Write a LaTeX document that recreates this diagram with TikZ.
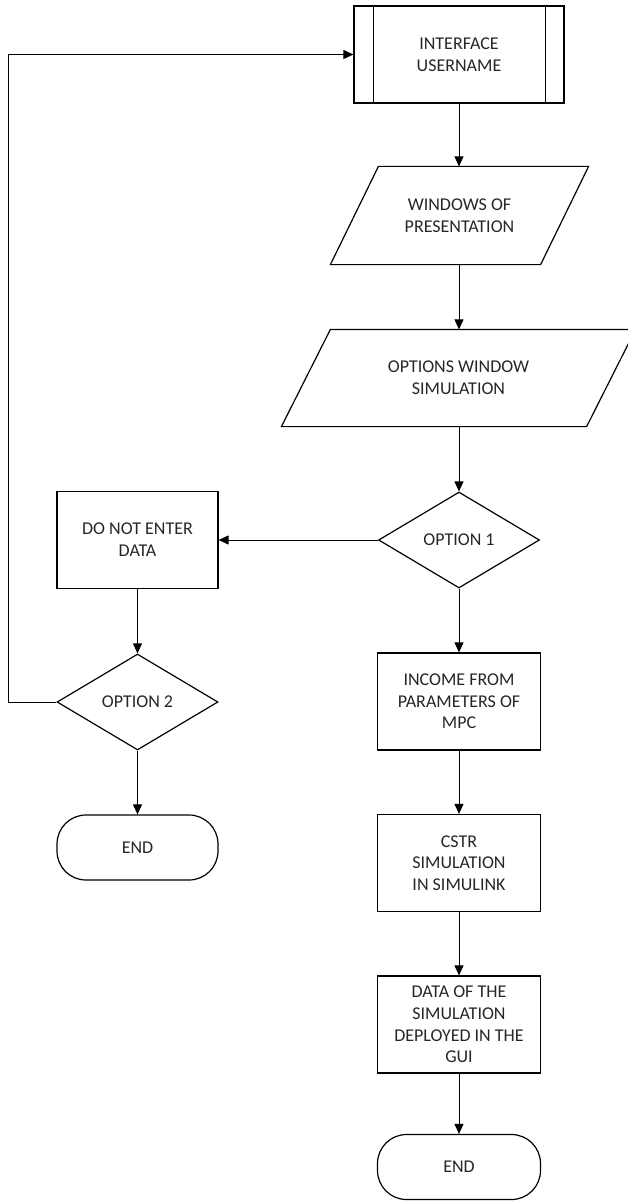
\documentclass[tikz,border=0pt]{standalone}
\usepackage{fontspec}
\setmainfont{Carlito}
\usetikzlibrary{shapes.geometric,arrows.meta,positioning}

\tikzset{
  block/.style={draw, line width=1.2pt, inner sep=2pt, align=center,
    text=black!85, font=\fontsize{18pt}{21.7pt}\selectfont},
  process/.style={block, minimum width=163pt, minimum height=97pt},
  pproc/.style={process, minimum width=210pt},
  para/.style={block, draw=none, minimum height=97pt},
  edgeline/.style={line width=1.2pt, line join=miter},
  decision/.style={block, diamond, aspect=1.67, inner sep=0pt,
    minimum width=161pt, minimum height=96pt},
  terminal/.style={block, rounded corners=29pt, minimum width=161pt,
    minimum height=65pt},
  flow/.style={->, line width=0.9pt}
}

\begin{document}
\begin{tikzpicture}[x=1pt,y=-1pt,>={Triangle[length=10pt,width=9pt]}]
\useasboundingbox (0,0) rectangle (628,1201);

% main column
\node[pproc] (iface) at (459,54.5) {INTERFACE\\USERNAME};
\draw[edgeline] ([xshift=20pt]iface.north west) -- ([xshift=20pt]iface.south west);
\draw[edgeline] ([xshift=-19pt]iface.north east) -- ([xshift=-19pt]iface.south east);
\node[para, minimum width=209pt] (present) at (459.5,215.5) {WINDOWS OF\\PRESENTATION};
\draw[edgeline] ([xshift=24pt]present.north west) -- ([xshift=24pt]present.north east)
  -- ([xshift=-24pt]present.south east) -- ([xshift=-24pt]present.south west) -- cycle;
\node[para, minimum width=304pt, minimum height=96pt] (optwin) at (458.5,378) {OPTIONS WINDOW\\SIMULATION};
\draw[edgeline] ([xshift=24.5pt]optwin.north west) -- ([xshift=24.5pt]optwin.north east)
  -- ([xshift=-24.5pt]optwin.south east) -- ([xshift=-24.5pt]optwin.south west) -- cycle;
\node[decision] (opt1) at (459,540) {OPTION 1};
\node[process] (income) at (459,701.5) {INCOME FROM\\PARAMETERS OF\\MPC};
\node[process] (cstr) at (459,863) {CSTR\\SIMULATION\\IN SIMULINK};
\node[process] (gui) at (459,1024.5) {DATA OF THE\\SIMULATION\\DEPLOYED IN THE\\GUI};
\node[terminal, minimum width=163pt] (endr) at (459,1167) {END};

% left branch
\node[process, minimum width=161pt] (noentry) at (137.5,540) {DO NOT ENTER\\DATA};
\node[decision] (opt2) at (137.5,702) {OPTION 2};
\node[terminal] (endl) at (137.5,847.5) {END};
\coordinate (back) at (8,702);

\draw[flow] (iface.south) -- (iface.south |- present.north);
\draw[flow] (iface.south |- present.south) -- (iface.south |- optwin.north);
\draw[flow] (iface.south |- optwin.south) -- (opt1.north);
\draw[flow] (opt1) -- (noentry);
\draw[flow] (opt1) -- (income);
\draw[flow] (income) -- (cstr);
\draw[flow] (cstr) -- (gui);
\draw[flow] (gui) -- (endr);
\draw[flow] (noentry) -- (opt2);
\draw[flow] (opt2) -- (endl);
\draw[flow] (opt2.west) -- (back) |- (iface.west);

\end{tikzpicture}
\end{document}
